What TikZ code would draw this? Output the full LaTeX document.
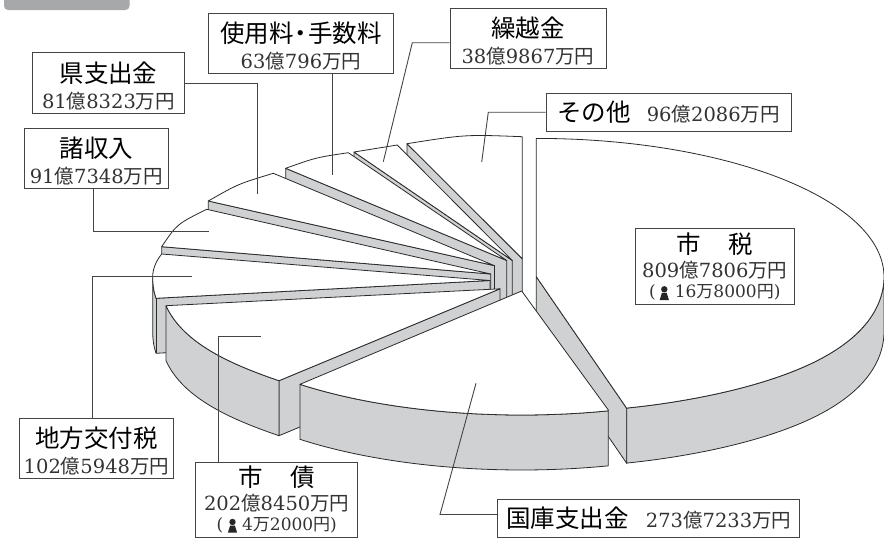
\documentclass[tikz,border=0pt]{standalone}
\usepackage{fontspec}
\setmainfont{DejaVu Serif}
\newfontfamily\jp{Noto Sans CJK JP}
\newcommand\hd[1]{{\fontsize{24.5}{26}\selectfont\jp #1}}
\newcommand\hdt[1]{\rule{0pt}{26pt}{\fontsize{24.5}{26}\selectfont\jp #1}}
\newcommand\nm[1]{{\fontsize{19.5}{26}\selectfont\color{numink}#1}}
\newcommand\nms[1]{{\fontsize{17}{26}\selectfont\color{numink}#1}}
\newcommand\ku{{\jp\fontsize{19.5}{26}\selectfont 億}}
\newcommand\mn{{\jp\fontsize{19.5}{26}\selectfont 万}}
\newcommand\en{{\jp\fontsize{19.5}{26}\selectfont 円}}
\newcommand\mns{{\jp\fontsize{17}{26}\selectfont 万}}
\newcommand\ens{{\jp\fontsize{17}{26}\selectfont 円}}
\definecolor{wall}{HTML}{D0D1D3}
\definecolor{tabc}{HTML}{A7A8AA}
\definecolor{edge}{HTML}{2A2A2A}
\definecolor{boxline}{HTML}{444444}
\definecolor{numink}{HTML}{333333}
\tikzset{
  side/.style={draw=edge,fill=wall,line width=.8pt,line join=round},
  top/.style={draw=edge,fill=white,line width=.8pt,line join=round},
  leader/.style={draw=boxline,line width=.9pt,line join=miter},
  box/.style={draw=boxline,fill=white,line width=1pt,inner sep=0pt,align=center,text=black,font=\fontsize{12}{26}\selectfont},
  personicon/.pic={
    \fill[black!85] (0,-3.5) circle (3.2);
    \fill[black!85] (-4.6,7.2) -- (-2.4,0) -- (2.4,0) -- (4.6,7.2) -- cycle;
  }
}
\begin{document}
\begin{tikzpicture}[x=1pt,y=-1pt]
\useasboundingbox (0,0) rectangle (884,538);
% heading tab
\fill[tabc,rounded corners=4pt] (4,-12) rectangle (129.5,10);

% その他
\path[side] (407,143.7) -- (522.3,258.8) -- (522.3,314) -- (407,199) -- cycle;
\path[top] (522.3,258.8) -- (407,143.7) .. controls (465,134.5) .. (522.3,136.7) -- cycle;
% 繰越金
\path[side] (354,152) -- (512.3,260.5) -- (512.3,315) -- (354,207) -- cycle;
\path[top] (512.3,260.5) -- (397.3,145) .. controls (375,147.8) .. (354,152) -- cycle;
% 使用料・手数料
\path[side] (285.7,168.3) -- (506.7,260.5) -- (506.7,315) -- (285.7,223) -- cycle;
\path[top] (506.7,260.5) -- (348.3,152.7) .. controls (316,157.5) .. (285.7,168.3) -- cycle;
% 県支出金
\path[side] (208.3,201) -- (494.5,265.7) -- (494.5,320) -- (208.3,256) -- cycle;
\path[top] (494.5,265.7) -- (273.3,173.3) .. controls (238,184) .. (208.3,201) -- cycle;
% 諸収入
\path[side] (161.7,246.7) -- (490.7,274) -- (490.7,329) -- (161.7,301) -- cycle;
\path[top] (490.7,274) -- (206.7,209.3) .. controls (177,224) .. (161.7,246.7) -- cycle;
% 地方交付税
\path[side] (152.7,276.7) .. controls (152.7,284) and (153.5,291) .. (156,298.3) -- (490,280.5) -- (490,335) -- (156,353.3) .. controls (153.5,346) and (152.7,339) .. (152.7,331.7) -- cycle;
\path[top] (490,280.5) -- (161.7,254) .. controls (156,261) and (152.7,269) .. (152.7,276.7) .. controls (152.7,284) and (153.5,291) .. (156,298.3) -- cycle;
\draw[draw=edge,line width=.8pt] (156,298.3) -- (156,353.3);
% 市債
\path[side] (279,380.7) -- (500,288.8) -- (500,344) -- (279,435.7) -- cycle;
\path[side] (166,305.7) .. controls (183,343) and (230,364) .. (279,380.7) -- (279,435.7) .. controls (230,419) and (183,398) .. (166,360.7) -- cycle;
\path[top] (500,288.8) -- (166,305.7) .. controls (183,343) and (230,364) .. (279,380.7) -- cycle;
% 市税
\path[side] (536.3,276.7) -- (626.7,408.3) -- (626.7,463.3) -- (536.3,331.7) -- cycle;
\path[side] (626.7,408.3) -- plot[domain=-75:0,samples=80] ({536.3+347.7*cos(\x)},{276.7-(136+15*cos(\x)^4)*sin(\x)}) -- (884,331.7) -- plot[domain=0:-75,samples=80] ({536.3+347.7*cos(\x)},{331.7-(136+15*cos(\x)^4)*sin(\x)}) -- (626.7,463.3) -- cycle;
\path[top] (536.3,276.7) -- (536.3,138.4) -- plot[domain=90:0,samples=80] ({536.3+347.7*cos(\x)},{276.7-138.3*sin(\x)}) -- plot[domain=0:-75,samples=80] ({536.3+347.7*cos(\x)},{276.7-(136+15*cos(\x)^4)*sin(\x)}) -- (626.7,408.3) -- cycle;
% 国庫支出金
\path[side] (608.3,410) -- (608.3,465) -- plot[domain=-75.07:-131.3,samples=60] ({521.7+336*cos(\x)},{346.7-123.3*sin(\x)}) -- (300,384.3) -- plot[domain=-131.3:-75.07,samples=60] ({521.7+336*cos(\x)},{291.7-123.3*sin(\x)}) -- cycle;
\path[top] (521.7,291) -- (300,384.3) -- plot[domain=-131.3:-75.07,samples=60] ({521.7+336*cos(\x)},{291.7-123.3*sin(\x)}) -- (608.3,410) -- cycle;

% label boxes
\node[box,minimum width=184.8pt,minimum height=60.2pt] (shiyo) at (300.9,43.6) {\hdt{使用料\hspace{-5pt}・\hspace{-5pt}手数料}\\\nm{63\ku796\mn\en}};
\node[box,minimum width=156pt,minimum height=60pt] (kurikoshi) at (528,38.3) {\hdt{繰越金}\\\nm{38\ku9867\mn\en}};
\node[box,minimum width=245pt,minimum height=37.7pt] (sonota) at (668.5,112.2) {\hd{その他}\hspace{16pt}\nm{96\ku2086\mn\en}};
\node[box,minimum width=151.6pt,minimum height=60.6pt] (ken) at (108.5,83) {\hdt{県支出金}\\\nm{81\ku8323\mn\en}};
\node[box,minimum width=144pt,minimum height=60.3pt] (shoshu) at (96.3,158.2) {\hdt{諸収入}\\\nm{91\ku7348\mn\en}};
\node[box,minimum width=154.7pt,minimum height=60.3pt] (chiho) at (96.4,448.2) {\hdt{地方交付税}\\\nm{102\ku5948\mn\en}};
\node[box,minimum width=162pt,minimum height=75pt] (saisai) at (276.7,499.8) {\hd{市\hspace{27pt}債}\\[-2pt]\nm{202\ku8450\mn\en}\\[-6pt]\nms{(\hspace{19pt}4\mns2000\ens)}};
\node[box,minimum width=159pt,minimum height=75.6pt] (shizei) at (714.8,266.5) {\hd{市\hspace{27pt}税}\\[-2pt]\nm{809\ku7806\mn\en}\\[-6pt]\nms{(\hspace{19pt}16\mns8000\ens)}};
\node[box,minimum width=302.3pt,minimum height=38pt] (kokko) at (648.8,518.3) {\hd{国庫支出金}\hspace{17pt}\nm{273\ku7233\mn\en}};
\pic at (232.5,525.5) {personicon};
\pic at (664.3,292.8) {personicon};

% leader anchors
\coordinate (kenA) at (257,194);
\coordinate (shoB) at (93.7,231.7);
\coordinate (shoA) at (208.7,231.7);
\coordinate (shiyoA) at (332.7,175);
\coordinate (kuriB) at (412.3,42.7);
\coordinate (kuriA) at (383.3,161.7);
\coordinate (sonoB) at (488.3,112.2);
\coordinate (sonoA) at (481.7,162);
\coordinate (chiB) at (92.7,276.7);
\coordinate (chiA) at (191.7,276.7);
\coordinate (saiB) at (218.3,336.3);
\coordinate (saiA) at (260.7,336.3);
\coordinate (kokB) at (440,514.5);
\coordinate (kokA) at (476,383.3);

% leaders
\draw[leader] (ken.east) -| (kenA);
\draw[leader] (shoB |- shoshu.south) -- (shoB) -- (shoA);
\draw[leader] (shiyoA |- shiyo.south) -- (shiyoA);
\draw[leader] (kurikoshi.west |- kuriB) -- (kuriB) -- (kuriA);
\draw[leader] (sonota.west) -- (sonoB) -- (sonoA);
\draw[leader] (chiB |- chiho.north) -- (chiB) -- (chiA);
\draw[leader] (saiB |- saisai.north) -- (saiB) -- (saiA);
\draw[leader] (kokko.west |- kokB) -- (kokB) -- (kokA);
\end{tikzpicture}
\end{document}
